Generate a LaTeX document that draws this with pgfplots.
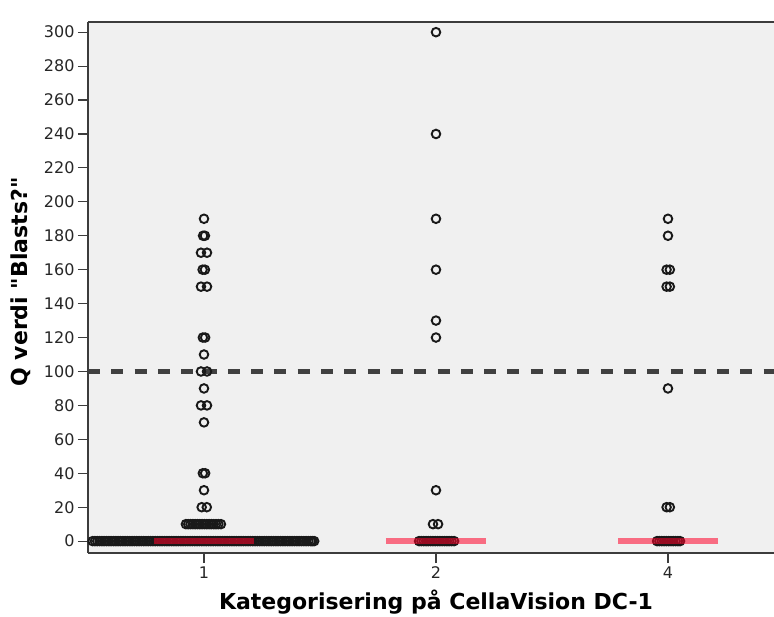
\documentclass[border=0pt]{standalone}
\usepackage{pgfplots}
\pgfplotsset{compat=1.18}
\usepackage{fontspec}
\setmainfont{DejaVu Sans}[Ligatures=TeXOff]
\definecolor{spine}{RGB}{60,60,60}
\definecolor{bg}{RGB}{240,240,240}
\definecolor{barred}{RGB}{255,0,40}
\definecolor{refline}{RGB}{64,64,64}
\begin{document}
\begin{tikzpicture}
\begin{axis}[
  name=ax,
  scale only axis,
  width=686pt, height=531pt,
  xmin=-0.5, xmax=2.457,
  ymin=-7, ymax=306,
  axis x line*=bottom, axis y line*=left,
  axis line style={spine, line width=1.5pt, -},
  axis background/.style={fill=bg},
  xtick={0,1,2}, xticklabels={1,2,4},
  ytick={0,20,...,300},
  tick align=outside,
  major tick length=10pt,
  tick style={spine, line width=1.2pt},
  /pgf/number format/assume math mode=true,
  tick label style={font=\fontsize{16}{18}\selectfont, text=black!85},
  xlabel={Kategorisering på CellaVision DC-1},
  ylabel={Q verdi "Blasts?"},
  xlabel style={font=\fontsize{22}{24}\selectfont\bfseries, at={(axis description cs:0.5,0)}, anchor=center, yshift=-49pt, xshift=5pt},
  ylabel style={font=\fontsize{22}{24}\selectfont\bfseries, at={(axis description cs:0,0.5)}, anchor=center, xshift=5.5pt, yshift=67pt},
  clip=false,
  clip mode=individual,
]
% top spine
\draw[spine, line width=1.5pt] (rel axis cs:0,1) -- (rel axis cs:1,1);
% reference line at 100
\addplot[refline, line width=4.5pt, dash pattern=on 12pt off 11.3pt] coordinates {(-0.5,100) (2.457,100)};
% points
\addplot[only marks, mark=o, mark size=4.3pt, mark options={draw=black!90, fill=white, line width=1.9pt}] coordinates {
 (0,190) (-0.004,180) (0.004,180) (-0.013,170) (0.013,170) (-0.006,160) (0.004,160)
 (-0.013,150) (0.013,150) (-0.005,120) (0.005,120) (0,110) (-0.013,100) (0.013,100)
 (0,90) (-0.013,80) (0.013,80) (0,70) (-0.005,40) (0.005,40) (0,30) (-0.01,20) (0.012,20)
 (-0.078,10) (-0.068,10) (-0.058,10) (-0.048,10) (-0.038,10) (-0.028,10) (-0.018,10) (-0.008,10)
 (0.002,10) (0.012,10) (0.022,10) (0.032,10) (0.042,10) (0.052,10) (0.062,10) (0.073,10)
 (-0.48,0) (-0.46,0) (-0.44,0) (-0.42,0) (-0.40,0) (-0.38,0) (-0.36,0) (-0.34,0) (-0.32,0) (-0.30,0)
 (-0.28,0) (-0.26,0) (-0.24,0) (-0.22,0) (-0.20,0) (-0.18,0) (-0.16,0) (-0.14,0) (-0.12,0) (-0.10,0)
 (-0.08,0) (-0.06,0) (-0.04,0) (-0.02,0) (0,0) (0.02,0) (0.04,0) (0.06,0) (0.08,0) (0.10,0)
 (0.12,0) (0.14,0) (0.16,0) (0.18,0) (0.20,0) (0.22,0) (0.24,0) (0.26,0) (0.28,0) (0.30,0)
 (0.32,0) (0.34,0) (0.36,0) (0.38,0) (0.40,0) (0.42,0) (0.44,0) (0.46,0) (0.475,0)
 (-0.47,0) (-0.45,0) (-0.43,0) (-0.41,0) (-0.39,0) (-0.37,0) (-0.35,0) (-0.33,0) (-0.31,0) (-0.29,0)
 (-0.27,0) (-0.25,0) (-0.23,0) (-0.21,0) (-0.19,0) (-0.17,0) (-0.15,0) (-0.13,0) (-0.11,0) (-0.09,0)
 (-0.07,0) (-0.05,0) (-0.03,0) (-0.01,0) (0.01,0) (0.03,0) (0.05,0) (0.07,0) (0.09,0) (0.11,0)
 (0.13,0) (0.15,0) (0.17,0) (0.19,0) (0.21,0) (0.23,0) (0.25,0) (0.27,0) (0.29,0) (0.31,0)
 (0.33,0) (0.35,0) (0.37,0) (0.39,0) (0.41,0) (0.43,0) (0.45,0) (0.467,0)
};
\addplot[only marks, mark=o, mark size=4.3pt, mark options={draw=black!90, fill=white, line width=1.9pt}] coordinates {
 (1,300) (1,240) (1,190) (1,160) (1,130) (1,120) (1,30) (0.987,10) (1.009,10)
 (0.927,0) (0.937,0) (0.947,0) (0.957,0) (0.967,0) (0.977,0) (0.987,0) (0.997,0) (1.007,0)
 (1.017,0) (1.027,0) (1.037,0) (1.047,0) (1.057,0) (1.067,0) (1.078,0)
};
\addplot[only marks, mark=o, mark size=4.3pt, mark options={draw=black!90, fill=white, line width=1.9pt}] coordinates {
 (2,190) (2,180) (1.994,160) (2.008,160) (1.994,150) (2.008,150) (2,90) (1.994,20) (2.008,20)
 (1.953,0) (1.963,0) (1.973,0) (1.983,0) (1.993,0) (2.003,0) (2.013,0) (2.023,0) (2.033,0)
 (2.043,0) (2.052,0)
};
% central bars
\addplot[barred, opacity=0.55, line width=6pt] coordinates {(-0.2155,0) (0.2155,0)};
\addplot[barred, opacity=0.55, line width=6pt] coordinates {(0.7845,0) (1.2155,0)};
\addplot[barred, opacity=0.55, line width=6pt] coordinates {(1.7845,0) (2.2155,0)};
\end{axis}
\pgfresetboundingbox
\path[use as bounding box] ([shift={(-88pt,-63pt)}]ax.south west) rectangle ++(774pt,616pt);
\end{tikzpicture}
\end{document}
